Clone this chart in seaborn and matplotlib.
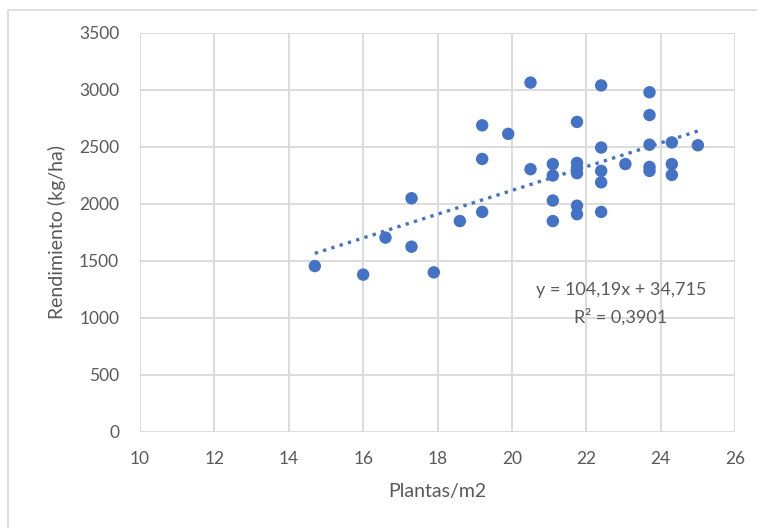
import numpy as np
import matplotlib
matplotlib.use('Agg')
import matplotlib.pyplot as plt
import seaborn as sns
from matplotlib.patches import Rectangle

########## DATA ##########
plantas = [14.7, 16.0, 16.6, 17.3, 17.3, 17.9, 18.6, 19.2, 19.2, 19.2,
           19.9, 20.5, 20.5, 21.1, 21.1, 21.1, 21.1, 21.75, 21.75, 21.75,
           21.75, 21.75, 21.75, 22.4, 22.4, 22.4, 22.4, 22.4, 23.05, 23.7,
           23.7, 23.7, 23.7, 23.7, 24.3, 24.3, 24.3, 25.0]
rendimiento = [1455, 1380, 1705, 2050, 1625, 1400, 1850, 2690, 2395, 1930,
               2615, 3065, 2305, 2350, 2250, 2030, 1850, 2720, 2360, 2315,
               2270, 1985, 1910, 3040, 2495, 2290, 2190, 1930, 2350, 2980,
               2780, 2520, 2325, 2290, 2540, 2350, 2255, 2515]
slope, intercept = 104.19, 34.715  # trendline shown in the chart
eq_text = 'y = 104,19x + 34,715'
r2_text = 'R² = 0,3901'
##########################

sns.set_style('white')
plt.rcParams['font.family'] = ['Lato', 'DejaVu Sans']

blue = '#4472C4'
grey_txt = '#595959'

fig = plt.figure(figsize=(7.57, 5.28), dpi=100)
ax = fig.add_axes([0.185, 0.182, 0.786, 0.7555])

sns.scatterplot(x=plantas, y=rendimiento, ax=ax, color=blue, s=80,
                edgecolor='none', zorder=3)

# linear trendline from min to max x
xs = np.array([min(plantas), max(plantas)])
ax.plot(xs, slope * xs + intercept, linestyle=(0, (1, 1.6)), color=blue,
        linewidth=2.4, zorder=2)

ax.set_xlim(10, 26)
ax.set_ylim(0, 3500)
ax.set_xticks(range(10, 27, 2))
ax.set_yticks(range(0, 3501, 500))
ax.grid(True, color='#d9d9d9', linewidth=1.3)
ax.set_axisbelow(True)
for sp in ax.spines.values():
    sp.set_visible(False)
ax.tick_params(axis='x', length=0, labelsize=12.5, colors=grey_txt, pad=14)
ax.tick_params(axis='y', length=0, labelsize=12.5, colors=grey_txt, pad=15)

ax.set_xlabel('Plantas/m2', fontsize=14, color=grey_txt, labelpad=11)
ax.set_ylabel('Rendimiento (kg/ha)', fontsize=14, color=grey_txt, labelpad=9)

ax.text(22.93, 1245, eq_text, ha='center', va='center', fontsize=13, color=grey_txt)
ax.text(22.93, 1010, r2_text, ha='center', va='center', fontsize=13, color=grey_txt)

# chart area border
fig.patches.append(Rectangle((8 / 757, -0.1), 1.2, 1 - 10 / 528 + 0.1,
                             transform=fig.transFigure, fill=False,
                             edgecolor='#d9d9d9', linewidth=1.2))

fig.savefig('out.png', dpi=100, facecolor='white')
